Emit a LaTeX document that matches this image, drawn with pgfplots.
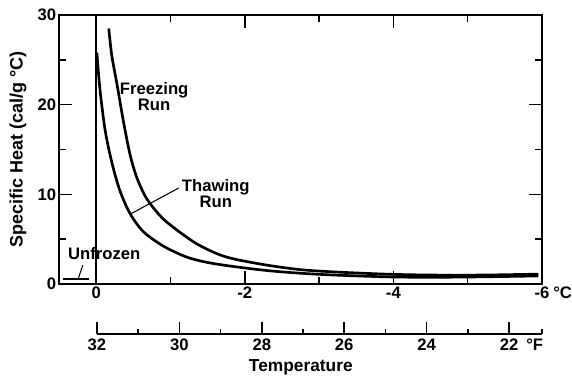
\documentclass[border=0pt]{standalone}
\usepackage{pgfplots}
\pgfplotsset{compat=1.18}
\usepackage{fontspec}
\setmainfont{Liberation Sans}

\newcommand{\lf}{\fontsize{12.5}{11.5}\selectfont\bfseries}

\begin{document}
\begin{tikzpicture}[font=\bfseries]
\begin{axis}[name=c, scale only axis, width=362.25pt, height=201.75pt,
 x dir=reverse, xmin=-6, xmax=0.5, ymin=0, ymax=30,
 xtick={0,-2,-4,-6}, xticklabels={0,-2,-4,-6},
 minor xtick={-1,-3,-5},
 ytick={0,10,20,30}, yticklabels={0,10,20,30},
 minor ytick={5,15,25},
 tick align=inside, major tick length=10pt, minor tick length=5.5pt,
 every tick/.style={black, line width=1.2pt},
 axis line style={line width=1.5pt},
 tick label style={font=\lf},
 xticklabel style={inner sep=2pt},
 yticklabel style={inner sep=2pt},
 ylabel={Specific Heat (cal/g °C)},
 ylabel style={at={(axis description cs:-0.085,0.5)}, anchor=center, font=\fontsize{13.5}{15}\selectfont\bfseries},
 clip=false]
% zero line
\addplot[black, line width=1.1pt] coordinates {(0,0) (0,30)};
% Thawing run
\addplot[black, line width=2pt, smooth, tension=0.5] coordinates {
 (-0.01,25.8) (-0.05,21.8) (-0.12,17.2) (-0.21,13.6) (-0.32,10.4)
 (-0.46,7.8) (-0.64,5.8) (-0.91,4.2) (-1.22,3.0) (-1.5,2.4) (-1.85,1.95)
 (-2.3,1.5) (-2.75,1.2) (-3.2,1.0) (-3.9,0.8) (-4.5,0.75) (-5.2,0.8) (-5.95,0.9)};
% Freezing run
\addplot[black, line width=2pt, smooth, tension=0.5] coordinates {
 (-0.17,28.5) (-0.21,25.5) (-0.28,22.3) (-0.37,18.0) (-0.46,14.3)
 (-0.55,11.8) (-0.66,9.8) (-0.77,8.5) (-0.91,7.2) (-1.09,6.0) (-1.35,4.5)
 (-1.62,3.4) (-1.85,2.8) (-2.3,2.1) (-2.75,1.6) (-3.2,1.35) (-3.9,1.1)
 (-4.5,1.0) (-5.2,1.0) (-5.95,1.1)};
% Unfrozen
\addplot[black, line width=2pt] coordinates {(0.45,0.56) (0.09,0.56)};
\addplot[black, line width=0.8pt] coordinates {(0.24,0.6) (0.18,2.1)};
% Thawing leader
\addplot[black, line width=0.8pt] coordinates {(-0.46,7.8) (-1.11,10.7)};
\node[align=center, font=\lf] at (axis cs:-0.78,20.9) {Freezing\\Run};
\node[align=center, font=\lf] at (axis cs:-1.61,10.1) {Thawing\\Run};
\node[font=\lf] at (axis cs:-0.11,3.35) {Unfrozen};
\end{axis}
\node[anchor=north west, inner sep=2pt, font=\lf] at ([xshift=6.25pt]c.south east) {°C};
\coordinate (fa) at ([yshift=-37.5pt]c.south east);

\begin{axis}[name=f, at={(fa)}, anchor=south east,
 scale only axis, width=333.75pt, height=20pt,
 x dir=reverse, xmin=21.2, xmax=32, ymin=0, ymax=1,
 axis x line*=bottom, axis y line=none,
 axis line style={line width=1.5pt, -},
 xtick={22,24,26,28,30,32}, xticklabels={22,24,26,28,30,32},
 minor xtick={21.2,23,25,27,29,31},
 tick align=inside, major tick length=9pt, minor tick length=3.5pt,
 every tick/.style={black, line width=1.2pt},
 tick label style={font=\lf},
 xticklabel style={inner sep=3.5pt},
 xlabel={Temperature},
 xlabel style={at={(axis description cs:0.458,0)}, anchor=center, yshift=-24.75pt, font=\fontsize{13}{15}\selectfont\bfseries},
 clip=false]
\end{axis}
\node[anchor=north west, inner sep=2pt, font=\lf] at ([xshift=-14pt, yshift=-1.5pt]f.south east) {°F};

\pgfresetboundingbox
\path ([xshift=-44.25pt,yshift=-70.5pt]c.south west) rectangle ([xshift=22.5pt,yshift=11.25pt]c.north east);
\end{tikzpicture}
\end{document}
